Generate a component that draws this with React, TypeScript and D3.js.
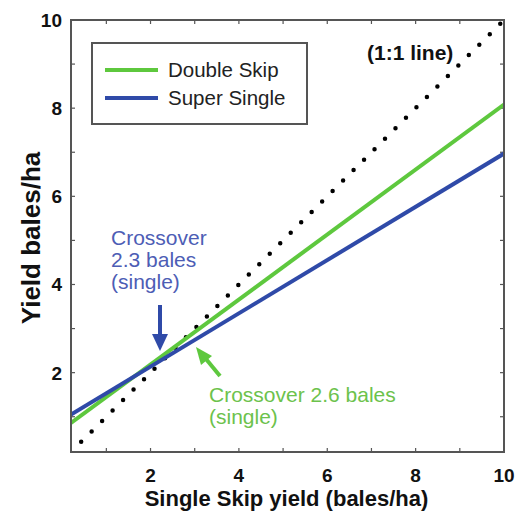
import React from "react";
import * as d3 from "d3";

// Yield response lines (bales/ha) against single-skip yield
const xEnds = [0.2, 10];
const doubleSkip = [0.86, 8.08];
const superSingle = [1.05, 6.97];
const oneToOne = [0.43, 10];

const xTicks = [2, 4, 6, 8, 10];
const yTicks = [2, 4, 6, 8, 10];
const minorTicks = [1, 2, 3, 4, 5, 6, 7, 8, 9];

const GREEN = "#5ec83e";
const BLUE = "#2f4aa8";
const GREEN_TXT = "#6cc24c";
const BLUE_TXT = "#4d5db5";

const W = 522;
const H = 514;
const left = 71;
const right = 504;
const top = 20;
const bottom = 452;

export default function App() {
  const x = d3.scaleLinear().domain([0.2, 10]).range([left, right]);
  const y = d3.scaleLinear().domain([0.2, 10]).range([bottom, top]);
  const line = d3
    .line<[number, number]>()
    .x((d) => x(d[0]))
    .y((d) => y(d[1]));

  const series = [
    { name: "Double Skip", vals: doubleSkip, color: GREEN },
    { name: "Super Single", vals: superSingle, color: BLUE },
  ];

  const font = "Liberation Sans, Arial, Helvetica, sans-serif";

  return (
    <svg
      width={W}
      height={H}
      style={{ position: "absolute", left: 0, top: 0, background: "#fff" }}
      fontFamily={font}
    >
      <defs>
        <clipPath id="plot">
          <rect x={left} y={top} width={right - left} height={bottom - top} />
        </clipPath>
      </defs>

      {/* ticks, pointing inward */}
      <g stroke="#555" strokeWidth={1.2}>
        {minorTicks.map((t) => (
          <g key={"t" + t}>
            <line x1={x(t)} x2={x(t)} y1={bottom} y2={bottom - 4} />
            <line x1={x(t)} x2={x(t)} y1={top} y2={top + 4} />
            <line x1={left} x2={left + 4} y1={y(t)} y2={y(t)} />
            <line x1={right} x2={right - 4} y1={y(t)} y2={y(t)} />
          </g>
        ))}
      </g>

      {/* data lines */}
      <g clipPath="url(#plot)">
        <path
          d={line([
            [oneToOne[0], oneToOne[0]],
            [oneToOne[1], oneToOne[1]],
          ])!}
          stroke="#000"
          strokeWidth={4.5}
          strokeLinecap="round"
          strokeDasharray="0 14.8"
          fill="none"
        />
        {series.map((s) => (
          <path
            key={s.name}
            d={line([
              [xEnds[0], s.vals[0]],
              [xEnds[1], s.vals[1]],
            ])!}
            stroke={s.color}
            strokeWidth={4}
            fill="none"
          />
        ))}
      </g>

      {/* frame */}
      <rect
        x={left}
        y={top}
        width={right - left}
        height={bottom - top}
        fill="none"
        stroke="#555"
        strokeWidth={2}
      />

      {/* tick labels */}
      <g fontWeight="bold" fontSize={19} fill="#111">
        {xTicks.map((t) => (
          <text key={"x" + t} x={x(t)} y={482} textAnchor="middle">
            {t}
          </text>
        ))}
        {yTicks.map((t) => (
          <text key={"y" + t} x={62} y={y(t) + 7} textAnchor="end">
            {t}
          </text>
        ))}
      </g>

      {/* axis titles */}
      <text
        x={(left + right) / 2 - 1}
        y={506}
        textAnchor="middle"
        fontWeight="bold"
        fontSize={22}
        fill="#111"
      >
        Single Skip yield (bales/ha)
      </text>
      <text
        transform={`translate(40,${238}) rotate(-90)`}
        textAnchor="middle"
        fontWeight="bold"
        fontSize={26}
        fill="#111"
      >
        Yield bales/ha
      </text>

      {/* 1:1 label */}
      <text x={367} y={60} fontWeight="bold" fontSize={21} fill="#111">
        (1:1 line)
      </text>

      {/* legend */}
      <rect x={92} y={43} width={215} height={81} fill="#fff" stroke="#555" strokeWidth={2} />
      {series.map((s, i) => (
        <g key={"lg" + s.name}>
          <line x1={105} x2={158} y1={70 + i * 28} y2={70 + i * 28} stroke={s.color} strokeWidth={4} />
          <text x={168} y={77 + i * 28} fontSize={20.5} fill="#222">
            {s.name}
          </text>
        </g>
      ))}

      {/* crossover annotations */}
      <g fontSize={21} fill={BLUE_TXT}>
        <text x={111} y={245}>Crossover</text>
        <text x={111} y={267}>2.3 bales</text>
        <text x={111} y={289}>(single)</text>
      </g>
      <line x1={160} y1={305} x2={160} y2={336} stroke={BLUE} strokeWidth={4} />
      <path d="M152,334 L168,334 L160,351 Z" fill={BLUE} />

      <g fontSize={21} fill={GREEN_TXT}>
        <text x={209} y={402}>Crossover 2.6 bales</text>
        <text x={209} y={424}>(single)</text>
      </g>
      <line x1={220} y1={376} x2={206} y2={359} stroke={GREEN} strokeWidth={4} />
      <path d="M196,347 L212,356 L201,365 Z" fill={GREEN} />
    </svg>
  );
}
